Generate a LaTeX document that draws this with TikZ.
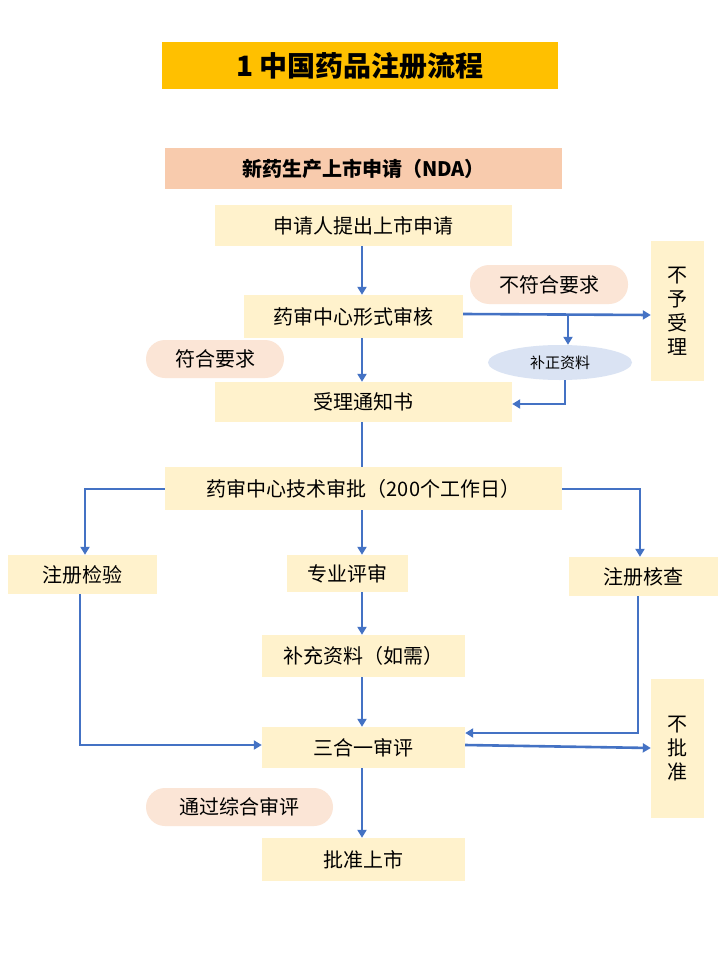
\documentclass[tikz,border=0pt]{standalone}
\usepackage{fontspec}
\setmainfont{Noto Sans CJK SC}
\usetikzlibrary{shapes.geometric,arrows.meta}
\definecolor{ttl}{HTML}{FFC000}
\definecolor{nda}{HTML}{F8CBAD}
\definecolor{bx}{HTML}{FFF2CC}
\definecolor{pk}{HTML}{FBE5D6}
\definecolor{bl}{HTML}{DAE3F3}
\definecolor{ar}{HTML}{4472C4}
\begin{document}
\begin{tikzpicture}[x=1pt,y=-1pt,
 box/.style={fill=bx,inner sep=0pt,font=\fontsize{20}{24}\selectfont},
 tag/.style={fill=pk,rounded corners=19pt,inner sep=0pt,font=\fontsize{20}{24}\selectfont},
 ln/.style={draw=ar,line width=2.6pt},
 arr/.style={ln,-{Triangle[length=8pt,width=9pt]}}]
\useasboundingbox (0,0) rectangle (720,960);
\fill[white] (0,0) rectangle (720,960);
\newcommand{\bx}[6]{\node[#6,minimum width=#4-#2,minimum height=#5-#3] (#1) at ({(#2+#4)/2},{(#3+#5)/2}) {\strut};}
\node[fill=ttl,minimum width=396,minimum height=47,font=\fontsize{28}{32}\selectfont\bfseries] (t) at (360,65.5) {1 中国药品注册流程};
\node[fill=nda,minimum width=397,minimum height=41,font=\fontsize{20}{24}\selectfont\bfseries] (nda) at (363.5,168.5) {新药生产上市申请（NDA）};
\node[box,minimum width=297,minimum height=41] (a) at (363.5,225.5) {申请人提出上市申请};
\node[box,minimum width=219,minimum height=43] (b) at (353.5,316.5) {药审中心形式审核};
\node[tag,minimum width=158,minimum height=39] (nf) at (549,284.5) {不符合要求};
\node[box,minimum width=53,minimum height=140,align=center] (bys) at (677.5,311) {不\\予\\受\\理};
\node[ellipse,fill=bl,minimum width=144,minimum height=35,inner sep=0pt,font=\fontsize{15}{18}\selectfont] (bz) at (560,362.5) {补正资料};
\node[tag,minimum width=138,minimum height=38] (fh) at (215,359) {符合要求};
\node[box,minimum width=297,minimum height=40] (c) at (363.5,402) {受理通知书};
\node[box,minimum width=397,minimum height=43] (d) at (363.5,488.5) {药审中心技术审批（200个工作日）};
\node[box,minimum width=149,minimum height=39] (e1) at (82.5,574.5) {注册检验};
\node[box,minimum width=121,minimum height=37] (e2) at (347.5,573.5) {专业评审};
\node[box,minimum width=149,minimum height=39] (e3) at (643.5,576.5) {注册核查};
\node[box,minimum width=203,minimum height=42] (f) at (363.5,656) {补充资料（如需）};
\node[box,minimum width=203,minimum height=41] (g) at (363.5,747.5) {三合一审评};
\node[box,minimum width=53,minimum height=139,align=center] (bpz) at (677.5,748.5) {不\\批\\准};
\node[tag,minimum width=187,minimum height=38] (tg) at (239.5,807) {通过综合审评};
\node[box,minimum width=203,minimum height=43] (h) at (363.5,859.5) {批准上市};
\coordinate (j1) at (568,314);
\draw[arr] (a.south -| 362,0) -- (b.north -| 362,0);
\draw[arr] (b.south -| 362,0) -- (c.north -| 362,0);
\draw[arr] (b.east |- 0,314) -- (bys.west |- 0,315);
\draw[arr] (j1) -- (bz.north -| j1);
\draw[arr] (bz.south -| 565,0) |- (c.east |- 0,404);
\draw[ln] (c.south -| 362,0) -- (d.north -| 362,0);
\draw[arr] (d.west |- 0,489) -| (e1.north -| 85,0);
\draw[arr] (d.east |- 0,489) -| (e3.north -| 640,0);
\draw[arr] (d.south -| 362,0) -- (e2.north -| 362,0);
\draw[arr] (e2.south -| 362,0) -- (f.north -| 362,0);
\draw[arr] (f.south -| 362,0) -- (g.north -| 362,0);
\draw[arr] (e1.south -| 80,0) |- (g.west |- 0,745);
\draw[arr] (e3.south -| 638,0) |- (g.east |- 0,733);
\draw[arr] (g.east |- 0,745) -- (bpz.west |- 0,748);
\draw[arr] (g.south -| 362,0) -- (h.north -| 362,0);
\end{tikzpicture}
\end{document}
